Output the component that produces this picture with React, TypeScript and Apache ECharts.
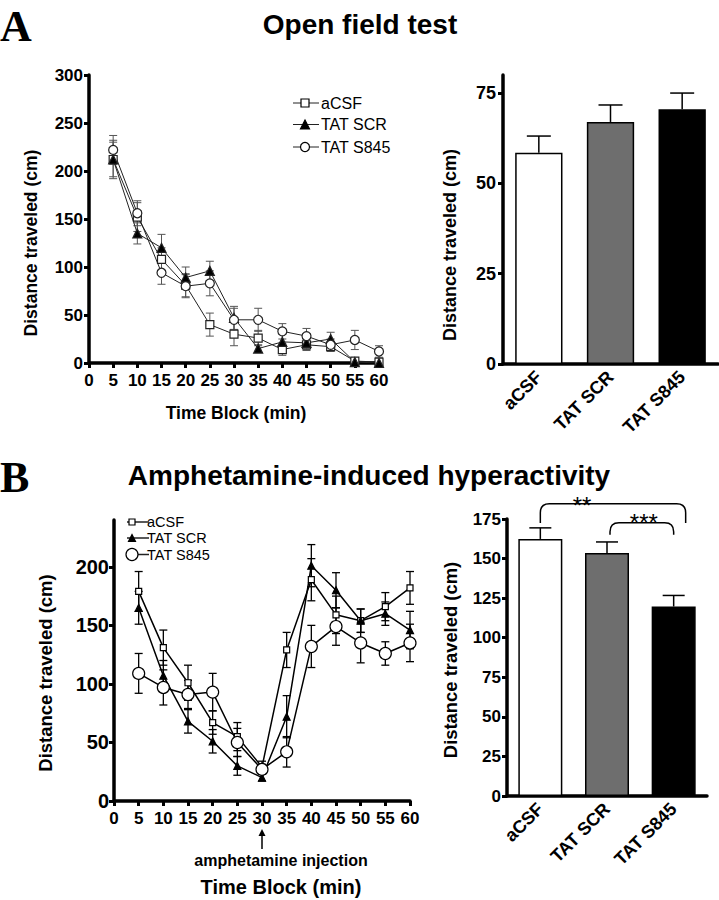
import React, { useEffect, useRef } from "react";
import * as echarts from "echarts";

// ---------- data ----------
const groups = ["aCSF", "TAT SCR", "TAT S845"];
const timeBlocks = [5, 10, 15, 20, 25, 30, 35, 40, 45, 50, 55, 60];

// Panel A: open field test (time course)
const openACSF = [212, 152, 108, 81, 40, 30, 26, 14, 19, 17, 2, 1];
const openACSFErr = [18, 15, 12, 12, 12, 12, 8, 6, 6, 5, 2, 1];
const openSCR = [212, 135, 120, 89, 96, 47, 15, 22, 21, 25, 1, 0];
const openSCRErr = [20, 11, 14, 11, 10, 12, 4, 8, 7, 7, 1, 1];
const openS845 = [222, 156, 94, 80, 83, 45, 45, 33, 28, 19, 24, 12];
const openS845Err = [15, 13, 12, 12, 13, 12, 12, 8, 8, 6, 10, 6];

// Panel A: open field totals
const openTotals = [58.5, 67, 70.5];
const openTotalsErr = [4.6, 4.7, 4.5];

// Panel B: amphetamine time course
const ampACSF = [179, 131, 101, 67, 55, 29, 129, 189, 159, 154, 166, 182];
const ampACSFErr = [17, 15, 15, 10, 12, 5, 15, 18, 16, 10, 12, 14];
const ampSCR = [165, 107, 68, 51, 30, 20, 72, 201, 180, 154, 160, 146];
const ampSCRErr = [14, 13, 10, 10, 8, 3, 18, 18, 15, 10, 10, 16];
const ampS845 = [109, 97, 91, 93, 50, 27, 42, 132, 149, 135, 126, 135];
const ampS845Err = [17, 15, 12, 16, 12, 4, 13, 18, 16, 17, 10, 16];

// Panel B: amphetamine totals
const ampTotals = [162.4, 153.5, 119.7];
const ampTotalsErr = [7, 7, 7];

// significance brackets (category indices, levels in data units)
const brackets = [
  { from: 0, to: 2, level: 184.7, end: 172.5, label: "**", labelLevel: 183.5 },
  { from: 1, to: 2, level: 172.7, end: 165, label: "***", labelLevel: 172.5 },
];

// tick labels
const openLineYTicks = [0, 50, 100, 150, 200, 250, 300];
const openBarYTicks = [0, 25, 50, 75];
const ampLineYTicks = [0, 50, 100, 150, 200];
const ampBarYTicks = [0, 25, 50, 75, 100, 125, 150, 175];

// ---------- style ----------
const FONT = "'Liberation Sans', Arial, Helvetica, sans-serif";
const SERIF = "'Liberation Serif', 'Times New Roman', serif";
const barColors = ["#ffffff", "#6e6e6e", "#000000"];
const symbolsA = ["rect", "triangle", "circle"];
const symbolSizesA = [8, 9, 9];
const symbolFillA = ["#fff", "#000", "#fff"];
const symbolsB = ["rect", "triangle", "circle"];
const symbolSizesB = [6, 7, 12];
const symbolFillB = ["#fff", "#000", "#fff"];
const bracketStyle = [
  { dxFrom: 0, dxTo: 12, labelDx: -31, fontSize: 24 },
  { dxFrom: 3, dxTo: 0, labelDx: 2, fontSize: 24 },
];

const GA = { left: 89, top: 75, width: 290, height: 288 };
const GAB = { left: 503, top: 75, width: 215, height: 289 };
const GB = { left: 114, top: 520, width: 296, height: 281 };
const GBB = { left: 507, top: 519, width: 200, height: 277 };

const labelStyle = (size: number) => ({
  color: "#000",
  fontWeight: "bold" as const,
  fontFamily: FONT,
  fontSize: size,
});

function valueXAxis(gridIndex: number, size: number) {
  return {
    type: "value",
    gridIndex,
    min: 0,
    max: 60,
    interval: 5,
    axisLine: { show: true, onZero: false, lineStyle: { color: "#000", width: 3.5 } },
    axisTick: { show: true, length: 5, lineStyle: { color: "#000", width: 3 } },
    axisLabel: { ...labelStyle(size), margin: 9 },
    splitLine: { show: false },
  };
}

function valueYAxis(gridIndex: number, max: number, interval: number, ticks: number[], size: number, margin: number) {
  return {
    type: "value",
    gridIndex,
    min: 0,
    max,
    interval,
    axisLine: { show: true, onZero: false, lineStyle: { color: "#000", width: 3.5 } },
    axisTick: { show: true, length: 5, lineStyle: { color: "#000", width: 3 }, customValues: ticks },
    axisLabel: {
      ...labelStyle(size),
      margin,
      customValues: ticks,
      formatter: (v: number) => (ticks.indexOf(v) >= 0 ? String(v) : ""),
    },
    splitLine: { show: false },
  };
}

function catXAxis(gridIndex: number, size: number) {
  return {
    type: "category",
    gridIndex,
    data: groups,
    axisLine: { show: true, lineStyle: { color: "#000", width: 3.5 } },
    axisTick: { show: false },
    axisLabel: { ...labelStyle(size), rotate: 45, margin: 10, interval: 0 },
    splitLine: { show: false },
  };
}

function errorSeries(
  axisIndex: number,
  xs: number[],
  ys: number[],
  errs: number[],
  color: string,
  cap: number,
  width: number,
  upperOnly: boolean,
  z: number
) {
  return {
    type: "custom",
    xAxisIndex: axisIndex,
    yAxisIndex: axisIndex,
    z,
    silent: true,
    data: xs.map((x, i) => [x, ys[i], errs[i]]),
    renderItem: (params: any, api: any) => {
      const x = api.value(0);
      const y = api.value(1);
      const e = api.value(2);
      const top = api.coord([x, y + e]);
      const bot = api.coord([x, upperOnly ? y : Math.max(0, y - e)]);
      const hw = cap / 2;
      const st = { stroke: color, lineWidth: width };
      const children: any[] = [
        { type: "line", shape: { x1: top[0], y1: top[1], x2: bot[0], y2: bot[1] }, style: st },
        { type: "line", shape: { x1: top[0] - hw, y1: top[1], x2: top[0] + hw, y2: top[1] }, style: st },
      ];
      if (!upperOnly) {
        children.push({ type: "line", shape: { x1: bot[0] - hw, y1: bot[1], x2: bot[0] + hw, y2: bot[1] }, style: st });
      }
      return { type: "group", children };
    },
  };
}

function lineSeries(
  axisIndex: number,
  name: string,
  ys: number[],
  symbol: string,
  size: number,
  fill: string,
  color: string,
  width: number
) {
  return {
    type: "line",
    name,
    xAxisIndex: axisIndex,
    yAxisIndex: axisIndex,
    z: 3,
    data: timeBlocks.map((t, i) => [t, ys[i]]),
    symbol,
    symbolSize: size,
    showAllSymbol: true,
    lineStyle: { color, width },
    itemStyle: { color: fill, borderColor: color, borderWidth: 1.2 },
  };
}

function barSeries(axisIndex: number, vals: number[]) {
  return {
    type: "bar",
    xAxisIndex: axisIndex,
    yAxisIndex: axisIndex,
    barWidth: "66%",
    z: 2,
    data: vals.map((v, i) => ({
      value: v,
      itemStyle: { color: barColors[i], borderColor: "#000", borderWidth: 1.5 },
    })),
  };
}

function legendGraphics(
  x0: number,
  lineLen: number,
  markerX: number,
  textX: number,
  rows: number[],
  sizes: number[],
  fills: string[],
  fontSize: number,
  lineWidth: number
) {
  const els: any[] = [];
  groups.forEach((g, i) => {
    const y = rows[i];
    els.push({
      type: "line",
      shape: { x1: x0, y1: y, x2: x0 + lineLen, y2: y },
      style: { stroke: "#222", lineWidth },
      z: 10,
    });
    const s = sizes[i];
    const mx = markerX;
    const st = { fill: fills[i], stroke: "#000", lineWidth: 1.2 };
    if (i === 0) {
      els.push({ type: "rect", shape: { x: mx - s / 2, y: y - s / 2, width: s, height: s }, style: st, z: 11 });
    } else if (i === 1) {
      els.push({
        type: "polygon",
        shape: { points: [[mx, y - s / 2], [mx + s / 2, y + s / 2], [mx - s / 2, y + s / 2]] },
        style: st,
        z: 11,
      });
    } else {
      els.push({ type: "circle", shape: { cx: mx, cy: y, r: s / 2 }, style: st, z: 11 });
    }
    els.push({
      type: "text",
      x: textX,
      y,
      z: 11,
      style: {
        text: g,
        font: `${fontSize}px ${FONT}`,
        fill: "#000",
        textAlign: "left",
        textVerticalAlign: "middle",
      },
    });
  });
  return els;
}

function text(x: number, y: number, t: string, font: string, rotation = 0, align = "center") {
  return {
    type: "text",
    x,
    y,
    rotation,
    z: 10,
    style: { text: t, font, fill: "#000", textAlign: align, textVerticalAlign: "middle" },
  };
}

const App: React.FC = () => {
  const ref = useRef<HTMLDivElement>(null);

  useEffect(() => {
    if (!ref.current) return;
    const chart = echarts.init(ref.current, undefined, { renderer: "svg" });

    const arrowX = GB.left + (30 / 60) * GB.width;

    const option: any = {
      animation: false,
      backgroundColor: "#fff",
      grid: [
        { ...GA, containLabel: false },
        { ...GAB, containLabel: false },
        { ...GB, containLabel: false },
        { ...GBB, containLabel: false },
      ],
      xAxis: [valueXAxis(0, 17), catXAxis(1, 18), valueXAxis(2, 17), catXAxis(3, 18)],
      yAxis: [
        valueYAxis(0, 300, 50, openLineYTicks, 17, 6),
        valueYAxis(1, 80, 25, openBarYTicks, 18, 7),
        valueYAxis(2, 240, 50, ampLineYTicks, 20, 5),
        valueYAxis(3, 175, 25, ampBarYTicks, 17, 6),
      ],
      series: [
        // Panel A lines
        errorSeries(0, timeBlocks, openACSF, openACSFErr, "#555", 8, 1, false, 1),
        errorSeries(0, timeBlocks, openSCR, openSCRErr, "#555", 8, 1, false, 1),
        errorSeries(0, timeBlocks, openS845, openS845Err, "#555", 8, 1, false, 1),
        lineSeries(0, groups[0], openACSF, symbolsA[0], symbolSizesA[0], symbolFillA[0], "#222", 1),
        lineSeries(0, groups[1], openSCR, symbolsA[1], symbolSizesA[1], symbolFillA[1], "#222", 1),
        lineSeries(0, groups[2], openS845, symbolsA[2], symbolSizesA[2], symbolFillA[2], "#222", 1),
        // Panel A bars
        barSeries(1, openTotals),
        errorSeries(1, [0, 1, 2], openTotals, openTotalsErr, "#000", 24, 1.5, true, 1),
        // Panel B lines
        errorSeries(2, timeBlocks, ampACSF, ampACSFErr, "#000", 8, 1.3, false, 1),
        errorSeries(2, timeBlocks, ampSCR, ampSCRErr, "#000", 8, 1.3, false, 1),
        errorSeries(2, timeBlocks, ampS845, ampS845Err, "#000", 8, 1.3, false, 1),
        lineSeries(2, groups[0], ampACSF, symbolsB[0], symbolSizesB[0], symbolFillB[0], "#000", 1.5),
        lineSeries(2, groups[1], ampSCR, symbolsB[1], symbolSizesB[1], symbolFillB[1], "#000", 1.5),
        lineSeries(2, groups[2], ampS845, symbolsB[2], symbolSizesB[2], symbolFillB[2], "#000", 1.5),
        // Panel B bars
        barSeries(3, ampTotals),
        errorSeries(3, [0, 1, 2], ampTotals, ampTotalsErr, "#000", 22, 1.5, true, 1),
        // significance brackets
        {
          type: "custom",
          xAxisIndex: 3,
          yAxisIndex: 3,
          z: 5,
          silent: true,
          data: brackets.map((b) => [b.from, b.to, b.level, b.end, b.labelLevel]),
          renderItem: (params: any, api: any) => {
            const b = brackets[params.dataIndex];
            const bs = bracketStyle[params.dataIndex];
            const p1 = api.coord([api.value(0), api.value(2)]);
            const p2 = api.coord([api.value(1), api.value(2)]);
            const pe = api.coord([api.value(0), api.value(3)]);
            const pl = api.coord([api.value(0), api.value(4)]);
            const x1 = p1[0] + bs.dxFrom;
            const x2 = p2[0] + bs.dxTo;
            const yt = p1[1];
            const ye = pe[1];
            const r = 9;
            const d =
              `M${x1},${ye} L${x1},${yt + r} Q${x1},${yt} ${x1 + r},${yt} ` +
              `L${x2 - r},${yt} Q${x2},${yt} ${x2},${yt + r} L${x2},${ye}`;
            return {
              type: "group",
              children: [
                { type: "path", shape: { pathData: d }, style: { fill: "none", stroke: "#000", lineWidth: 1.5 } },
                {
                  type: "text",
                  x: (x1 + x2) / 2 + bs.labelDx,
                  y: pl[1],
                  style: {
                    text: b.label,
                    font: `${bs.fontSize}px ${FONT}`,
                    fill: "#000",
                    textAlign: "center",
                    textVerticalAlign: "middle",
                  },
                },
              ],
            };
          },
        },
      ],
      graphic: [
        text(0, 26, "A", `bold 44px ${SERIF}`, 0, "left"),
        text(0, 477, "B", `bold 44px ${SERIF}`, 0, "left"),
        text(360, 24, "Open field test", `bold 28px ${FONT}`),
        text(369, 475, "Amphetamine-induced hyperactivity", `bold 28px ${FONT}`),
        text(31, 243, "Distance traveled (cm)", `bold 17.5px ${FONT}`, Math.PI / 2),
        text(450, 245, "Distance traveled (cm)", `bold 18px ${FONT}`, Math.PI / 2),
        text(45, 673, "Distance traveled (cm)", `bold 18.5px ${FONT}`, Math.PI / 2),
        text(450, 660, "Distance traveled (cm)", `bold 18.4px ${FONT}`, Math.PI / 2),
        text(236, 413, "Time Block (min)", `bold 17.5px ${FONT}`),
        text(281, 887, "Time Block (min)", `bold 20px ${FONT}`),
        text(281, 860, "amphetamine injection", `bold 16px ${FONT}`),
        {
          type: "line",
          shape: { x1: arrowX, y1: 849, x2: arrowX, y2: 832 },
          style: { stroke: "#000", lineWidth: 1.5 },
        },
        {
          type: "polygon",
          shape: { points: [[arrowX - 3.5, 836], [arrowX, 829], [arrowX + 3.5, 836]] },
          style: { fill: "#000" },
        },
        ...legendGraphics(293, 26, 305, 321, [103, 124.5, 147], symbolSizesA, symbolFillA, 16, 1),
        ...legendGraphics(127, 22, 132, 147, [522, 538, 554.5], [6, 7, 12], symbolFillB, 14.5, 1.5),
      ],
    };

    chart.setOption(option);
    return () => {
      chart.dispose();
    };
  }, []);

  return (
    <div
      ref={ref}
      style={{ position: "absolute", left: 0, top: 0, width: 719, height: 900, background: "#fff" }}
    />
  );
};

export default App;
